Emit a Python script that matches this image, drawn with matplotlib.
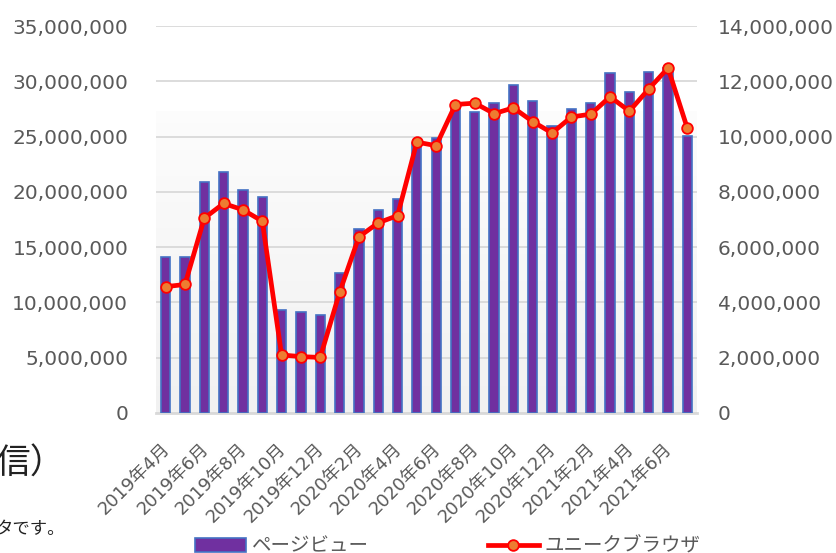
import numpy as np
import matplotlib
matplotlib.use("Agg")
import matplotlib.pyplot as plt
from matplotlib.ticker import FuncFormatter
from matplotlib.transforms import ScaledTranslation


plt.rcParams['font.family'] = ['DejaVu Sans', 'Noto Sans CJK JP']

# Data
months = ["2019年4月", "2019年5月", "2019年6月", "2019年7月", "2019年8月",
          "2019年9月", "2019年10月", "2019年11月", "2019年12月", "2020年1月",
          "2020年2月", "2020年3月", "2020年4月", "2020年5月", "2020年6月",
          "2020年7月", "2020年8月", "2020年9月", "2020年10月", "2020年11月",
          "2020年12月", "2021年1月", "2021年2月", "2021年3月", "2021年4月",
          "2021年5月", "2021年6月", "2021年7月"]

page_views = [14130000, 14130000, 20890000, 21820000, 20190000, 19530000,
              9310000, 9160000, 8830000, 12630000, 16670000, 18330000,
              19320000, 24400000, 24900000, 27700000, 27240000, 28060000,
              29630000, 28240000, 25980000, 27500000, 28060000, 30770000,
              29000000, 30800000, 31200000, 25050000]

unique_browsers = [4570000, 4650000, 7050000, 7580000, 7350000, 6940000,
                   2100000, 2040000, 2010000, 4360000, 6370000, 6880000,
                   7140000, 9800000, 9670000, 11160000, 11210000, 10830000,
                   11040000, 10540000, 10130000, 10710000, 10810000, 11440000,
                   10920000, 11720000, 12480000, 10300000]

left_ticks = [0, 5000000, 10000000, 15000000, 20000000, 25000000, 30000000, 35000000]
right_ticks = [0, 2000000, 4000000, 6000000, 8000000, 10000000, 12000000, 14000000]

TEXT_GRAY = "#595959"


def main():
    fig = plt.figure(figsize=(8.37, 5.53), dpi=100)
    ax = fig.add_axes([156 / 837, 1 - 413 / 553, (697 - 156) / 837, (413 - 26) / 553])

    # plot-area gradient (white at top, light gray toward the bottom)
    frac = np.linspace(0, 1, 400)
    shade = np.where(frac < 0.78, 0.945 + (0.99 - 0.945) * frac / 0.78, 1.0)
    grad = np.dstack([shade, shade, shade])[0][:, None, :]
    ax.imshow(grad, extent=[0, 1, 0, 1], transform=ax.transAxes,
              aspect="auto", origin="lower", zorder=0)

    x = np.arange(len(months))
    ax.bar(x, page_views, width=0.48, color="#7030A0", edgecolor="#4472C4",
           linewidth=1.2, zorder=3, label="ページビュー")

    ax.set_xlim(-0.5, len(months) - 0.5)
    ax.set_ylim(0, 35000000)
    ax.set_yticks(left_ticks)
    ax.yaxis.set_major_formatter(FuncFormatter(lambda v, p: f"{int(v):,}"))
    ax.grid(axis="y", color="#d9d9d9", linewidth=1.3, zorder=1)
    ax.set_axisbelow(True)
    for s in ["top", "left", "right"]:
        ax.spines[s].set_visible(False)
    ax.spines["bottom"].set_color("#d9d9d9")
    ax.spines["bottom"].set_linewidth(2)
    ax.tick_params(axis="y", length=0, pad=20, labelsize=14.5, labelcolor=TEXT_GRAY)

    ax.set_xticks(x[::2])
    ax.set_xticklabels(months[::2])
    ax.tick_params(axis="x", length=0, pad=19, labelsize=13, labelcolor=TEXT_GRAY)
    offset = ScaledTranslation(-5 / 100, 0, fig.dpi_scale_trans)
    for lbl in ax.get_xticklabels():
        lbl.set_rotation(45)
        lbl.set_ha("right")
        lbl.set_va("top")
        lbl.set_rotation_mode("anchor")
        lbl.set_transform(lbl.get_transform() + offset)

    ax2 = ax.twinx()
    ax2.plot(x, unique_browsers, color="#FF0000", linewidth=3.4, marker="o",
             markersize=7.7, markerfacecolor="#ED7D31", markeredgecolor="#FF0000",
             markeredgewidth=1.3, zorder=4, label="ユニークブラウザ")
    ax2.set_ylim(0, 14000000)
    ax2.set_yticks(right_ticks)
    ax2.yaxis.set_major_formatter(FuncFormatter(lambda v, p: f"{int(v):,}"))
    for s in ax2.spines.values():
        s.set_visible(False)
    ax2.tick_params(axis="y", length=0, pad=15, labelsize=14.5, labelcolor=TEXT_GRAY)

    # legend at the bottom (partly cut off, as in the source)
    h1, l1 = ax.get_legend_handles_labels()
    h2, l2 = ax2.get_legend_handles_labels()
    fig.legend(h1 + h2, l1 + l2, loc="center", bbox_to_anchor=(0.535, 7 / 553),
               ncol=2, frameon=False, handlelength=2.6,
               handletextpad=0.3, columnspacing=6.15, labelcolor=TEXT_GRAY,
               prop={"family": ["Noto Sans CJK JP"], "size": 14})

    # fragments of the surrounding page text
    fig.text(-0.006, (553 - 464) / 553, "信）", fontsize=25, color="#222222",
             family=["Noto Sans CJK JP"], va="center", ha="left")
    fig.text(-0.005, (553 - 529) / 553, "タです。", fontsize=12.5, color="#222222",
             family=["Noto Sans CJK JP"], va="center", ha="left")

    fig.savefig("out.png", dpi=100)

    return None


if __name__ == "__main__":
    main()
